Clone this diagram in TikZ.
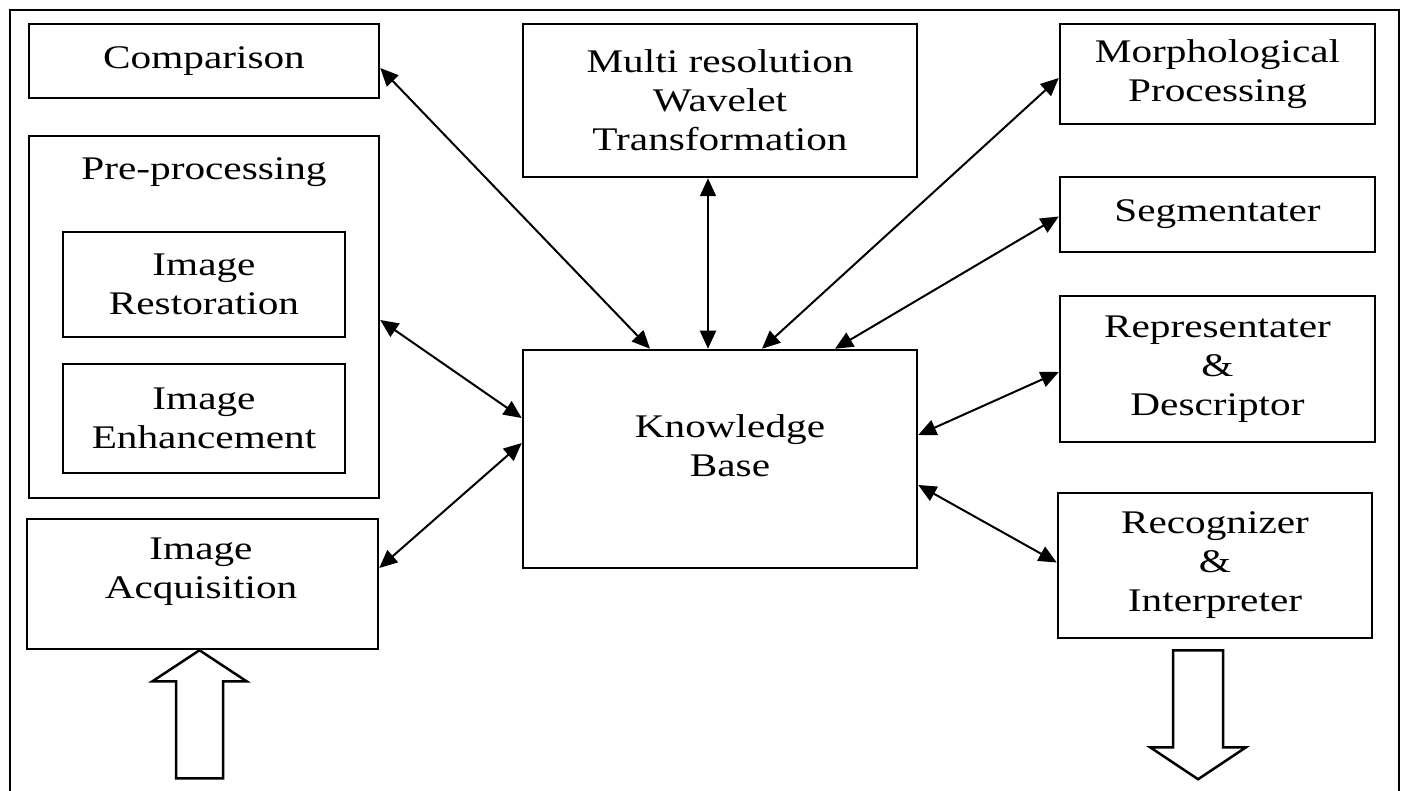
\documentclass[tikz,border=0pt]{standalone}
\usepackage{fontspec}
\setmainfont{Liberation Serif}[FakeStretch=1.25]
\usepackage{tikz}
\usetikzlibrary{arrows.meta,calc,positioning}

\tikzset{
	blk/.style={draw,line width=2.5pt,align=center,inner sep=0pt},
	txt/.style={align=center,inner sep=0pt},
	link/.style={line width=2pt,{Triangle[length=18pt,width=16pt]}-{Triangle[length=18pt,width=16pt]}},
	fat/.style={draw,line width=2.5pt,line join=miter,fill=white}
}

\begin{document}
\begin{tikzpicture}[x=1pt,y=-1pt,font=\fontsize{33}{39}\selectfont]
	\useasboundingbox (0,0) rectangle (1405,791);
	\draw[line width=2.2pt] (10,791) -- (10,10) -- (1399,10) -- (1399,791);

							% left column
							\node[blk,minimum width=350,minimum height=74] (CMP) at (204,61) {Comparison};
							\node[blk,minimum width=350,minimum height=362] (PRE) at (204,317) {};
							\node[txt] (PREt) at (204,172) {Pre-processing};
							\node[blk,minimum width=282,minimum height=105] (IR) at (204,284.5) {Image\\Restoration};
							\node[blk,minimum width=282,minimum height=109] (IE) at (204,418.5) {Image\\Enhancement};
							\node[blk,minimum width=351,minimum height=130] (IA) at (202.5,584) {};
							\node[txt] (IAt) at (201,572) {Image\\Acquisition};

							% middle
							\node[blk,minimum width=394,minimum height=153] (MWT) at (720,100.5) {Multi resolution\\Wavelet\\Transformation};
							\node[blk,minimum width=394,minimum height=218] (KB) at (720,459) {};
							\node[txt] (KBt) at (730,446) {Knowledge\\Base};

							% right column
							\node[blk,minimum width=315,minimum height=100] (MP) at (1217.5,74) {Morphological\\Processing};
							\node[blk,minimum width=315,minimum height=75] (SEG) at (1217.5,214.5) {Segmentater};
							\node[blk,minimum width=315,minimum height=146] (RD) at (1217.5,369) {Representater\\\&\\Descriptor};
							\node[blk,minimum width=314,minimum height=145] (RI) at (1215,565.5) {Recognizer\\\&\\Interpreter};

							\draw[link] ([yshift=-7pt]CMP.east) -- ([xshift=-70pt]KB.north);
							\draw[link] ([xshift=-12pt]MWT.south) -- ([xshift=-12pt]KB.north);
							\draw[link] ([yshift=-4pt]MP.west) -- ([xshift=42pt]KB.north);
							\draw[link] ([yshift=-2pt]SEG.west) -- ([xshift=115pt]KB.north);
							\draw[link] ([yshift=-3pt]RD.west) -- ([yshift=24pt]KB.east);
							\draw[link] ([yshift=-26pt]KB.east) -- ([yshift=3pt]RI.west);
							\draw[link] ([yshift=-3pt]PRE.east) -- ([yshift=41pt]KB.west);
							\draw[link] ([yshift=16pt]IA.east) -- ([yshift=16pt]KB.west);

							% input and output
							\coordinate (IN) at ([xshift=-3pt]IA.south);
							\coordinate (OUT) at ([xshift=-17pt,yshift=-11pt]RI.south);
							\draw[fat] (IN) -- ++(47,31) -- ++(-23.5,0) -- ++(0,97) -- ++(-47,0) -- ++(0,-97) -- ++(-23.5,0) -- cycle;
							\draw[fat] (OUT) ++(-25,0) -- ++(50,0) -- ++(0,97) -- ++(23,0) -- ++(-48,32) -- ++(-48,-32) -- ++(23,0) -- cycle;
\end{tikzpicture}
\end{document}
